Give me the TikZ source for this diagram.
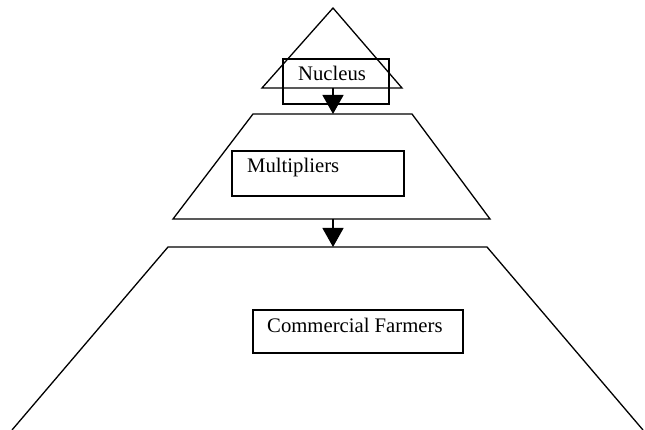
\documentclass[tikz,border=0pt]{standalone}
\usepackage{fontspec}
\setmainfont{Liberation Serif}
\usetikzlibrary{arrows.meta}
\tikzset{
  stufe/.style={line width=1.3pt, line join=miter},
  kasten/.style={draw, line width=1.5pt, inner sep=0pt},
  pfeil/.style={line width=1.3pt, -{Triangle[width=21pt,length=19pt]}},
  beschr/.style={anchor=base west, inner sep=0pt, font=\fontsize{20.7}{23}\selectfont}
}
\begin{document}
\begin{tikzpicture}[x=1pt,y=-1pt]
  \useasboundingbox (0,0) rectangle (645,430);
  % Spitze, Dreieck
  \draw[stufe] (262,88) -- (333,8) -- (402,88) -- cycle;
  % mittlere Stufe
  \draw[stufe] (253,114) -- (412,114) -- (490,219) -- (173,219) -- cycle;
  % untere Stufe
  \draw[stufe] (12,430) -- (168,247) -- (487,247) -- (643,430);
  % Kaesten
  \node[kasten, minimum width=106pt, minimum height=45pt] (nucleus) at (336,81.5) {};
  \node[kasten, minimum width=172pt, minimum height=45pt] (mult) at (318,173.5) {};
  \node[kasten, minimum width=210pt, minimum height=43pt] (comm) at (358,331.5) {};
  \node[beschr] (nucleustxt) at (298,81) {Nucleus};
  \node[beschr] (multtxt) at (247,173) {Multipliers};
  \node[beschr] (commtxt) at (267,332) {Commercial Farmers};
  % Pfeile
  \coordinate (nucbase) at (333,88);
  \coordinate (multtop) at (333,114);
  \coordinate (multbase) at (333,219);
  \coordinate (commtop) at (333,247);
  \draw[pfeil] (nucbase) -- (multtop);
  \draw[pfeil] (multbase) -- (commtop);
\end{tikzpicture}
\end{document}
